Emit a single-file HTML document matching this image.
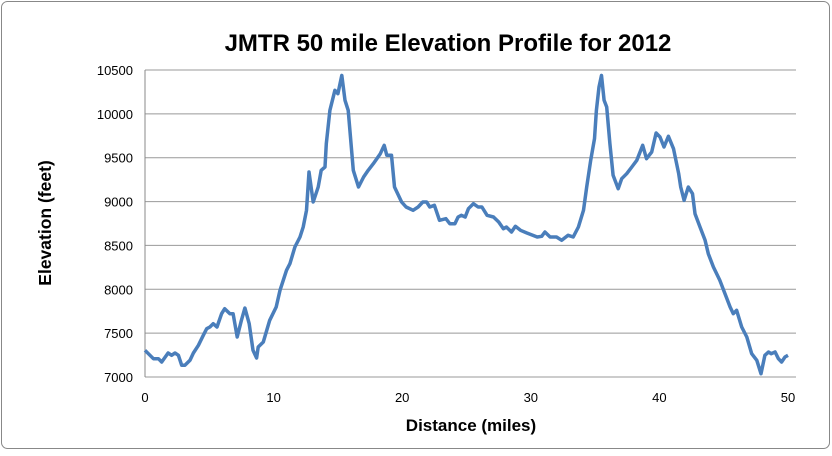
<!DOCTYPE html>
<html><head><meta charset="utf-8"><style>
body{margin:0;background:#fff;font-family:"Liberation Sans",sans-serif}
svg text{font-family:"Liberation Sans",sans-serif}
</style></head><body>
<svg id="chart" width="832" height="451" viewBox="0 0 832 451">
<rect x="1.5" y="1.5" width="828" height="447" rx="6" fill="#fff" stroke="#888" stroke-width="1"/>
<text x="448" y="51" text-anchor="middle" font-size="24" font-weight="bold">JMTR 50 mile Elevation Profile for 2012</text>
<text x="471" y="431" text-anchor="middle" font-size="17" font-weight="bold">Distance (miles)</text>
<text transform="translate(51,223) rotate(-90)" text-anchor="middle" font-size="17.5" font-weight="bold">Elevation (feet)</text>
<g id="grid"></g><g id="yt"></g><g id="xt"></g><g id="line"></g>
</svg>
<script>
const miles=[0,0.65,1.04,1.3,1.8,2.07,2.33,2.6,2.85,3.1,3.5,3.76,4.15,4.53,4.8,5.05,5.3,5.6,5.96,6.2,6.6,6.85,7.17,7.5,7.77,8.1,8.4,8.68,8.8,9.2,9.7,10.2,10.5,11.0,11.27,11.66,12.05,12.3,12.56,12.75,13.08,13.47,13.7,14.0,14.1,14.38,14.77,15.0,15.3,15.55,15.8,16.2,16.6,17.0,17.36,17.75,18.3,18.6,18.8,19.17,19.4,19.95,20.3,20.85,21.24,21.6,21.9,22.15,22.5,22.9,23.4,23.7,24.1,24.35,24.6,24.9,25.15,25.54,25.9,26.2,26.6,27.1,27.5,27.87,28.1,28.5,28.8,29.2,29.7,30.5,30.85,31.1,31.5,32.0,32.4,32.9,33.3,33.7,34.1,34.35,34.66,34.95,35.1,35.3,35.5,35.7,35.9,36.15,36.4,36.8,37.07,37.46,37.85,38.24,38.7,39.0,39.4,39.74,40.05,40.36,40.7,41.1,41.5,41.66,41.92,42.25,42.57,42.77,43.16,43.55,43.8,44.2,44.7,45.1,45.5,45.75,46.0,46.4,46.8,47.18,47.57,47.9,48.2,48.48,48.7,49.0,49.25,49.5,49.77,50.0];
const elevation=[7304,7209,7209,7171,7274,7247,7274,7247,7133,7133,7190,7274,7361,7475,7551,7570,7608,7570,7722,7779,7722,7722,7456,7646,7787,7608,7304,7217,7342,7399,7646,7798,7988,8216,8292,8482,8596,8710,8900,9337,8995,9166,9356,9394,9660,10040,10268,10230,10439,10154,10040,9356,9166,9280,9356,9432,9546,9641,9527,9527,9166,8995,8938,8900,8938,8995,8995,8938,8957,8786,8805,8748,8748,8824,8843,8824,8919,8976,8938,8938,8843,8824,8767,8691,8710,8653,8718,8672,8642,8596,8604,8653,8596,8596,8558,8615,8596,8710,8900,9166,9470,9717,10040,10306,10439,10154,10078,9660,9299,9147,9261,9318,9394,9470,9641,9489,9565,9782,9736,9622,9744,9603,9318,9166,9014,9166,9090,8862,8710,8558,8406,8254,8102,7950,7798,7722,7760,7570,7456,7266,7190,7038,7247,7285,7266,7285,7209,7171,7228,7247];
const yTicks=[7000,7500,8000,8500,9000,9500,10000,10500];
const xTicks=[0,10,20,30,40,50];
const X0=145,X1=788,Y0=377,Y1=70;
const xs=v=>X0+(v-0)/(50-0)*(X1-X0);
const ys=v=>Y0-(v-7000)/(10500-7000)*(Y0-Y1);
const NS="http://www.w3.org/2000/svg";
function mk(t,a,p){const e=document.createElementNS(NS,t);for(const k in a)e.setAttribute(k,a[k]);p.appendChild(e);return e;}
const g=document.getElementById('grid'),yt=document.getElementById('yt'),xt=document.getElementById('xt'),lg=document.getElementById('line');
yTicks.forEach(v=>{
 const l=mk('line',{x1:X0,x2:796,y1:ys(v),y2:ys(v),stroke:'#999','stroke-width':1},g);
 
 
 const t=mk('text',{x:133,y:ys(v)+5,'text-anchor':'end','font-size':13},yt);t.textContent=v;
 
 
});
const ax=mk('line',{x1:X0,x2:X0,y1:Y1,y2:Y0,stroke:'#888','stroke-width':1},g);


xTicks.forEach(v=>{
 const t=mk('text',{x:xs(v),y:402,'text-anchor':'middle','font-size':13},xt);t.textContent=v;
 
 
});
const d=miles.map((m,i)=>(i?'L':'M')+xs(m).toFixed(1)+','+ys(elevation[i]).toFixed(1)).join('');
const p=mk('path',{d:d,fill:'none',stroke:'#4a7ebb','stroke-width':3.5,'stroke-linejoin':'round'},lg);


</script>
</body></html>
